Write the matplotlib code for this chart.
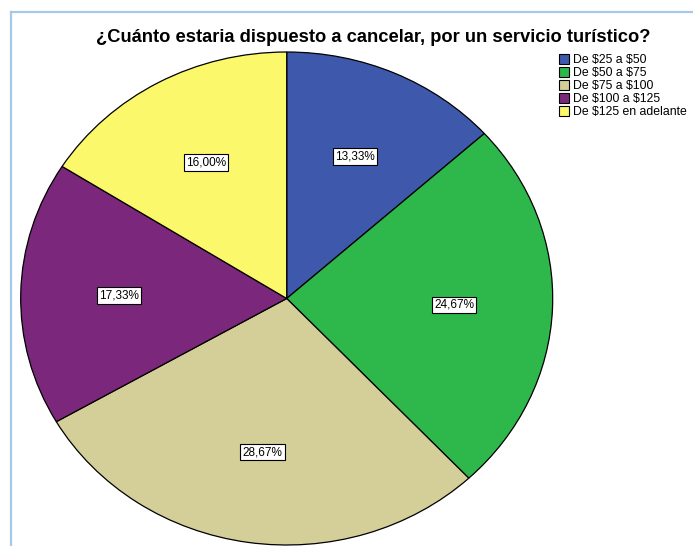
import matplotlib.pyplot as plt
from matplotlib.lines import Line2D
from matplotlib.patches import Patch

plt.rcParams["font.family"] = ["Liberation Sans", "DejaVu Sans"]

title = "¿Cuánto estaria dispuesto a cancelar, por un servicio turístico?"
categories = [r"De \$25 a \$50", r"De \$50 a \$75", r"De \$75 a \$100",
              r"De \$100 a \$125", r"De \$125 en adelante"]
percentages = [13.33, 24.67, 28.67, 17.33, 16.00]
colors = ["#3E58AC", "#2EB84B", "#D4CE98", "#7B287C", "#FCF86B"]

W, H = 693, 546
fig = plt.figure(figsize=(W / 100, H / 100), dpi=100)

# light blue frame along the left and top edges
frame_col = "#A7C8E8"
fig.add_artist(Line2D([11 / W, 11 / W], [0, 1 - 12 / H], transform=fig.transFigure,
                      color=frame_col, lw=1.6))
fig.add_artist(Line2D([11 / W, 1], [1 - 12 / H, 1 - 12 / H], transform=fig.transFigure,
                      color=frame_col, lw=1.6))

# pie is drawn slightly squashed (wider than tall)
left, right, top, bottom = 20.7, 552.7, 52, 545
ax = fig.add_axes([left / W, 1 - bottom / H, (right - left) / W, (bottom - top) / H])


def fmt_pct(p):
    return f"{p:.2f}%".replace(".", ",")


wedges, texts, autotexts = ax.pie(
    percentages, colors=colors, startangle=90, counterclock=False,
    autopct=fmt_pct, pctdistance=0.63,
    wedgeprops=dict(edgecolor="black", linewidth=0.9),
    textprops=dict(fontsize=8.5),
)
for t in autotexts:
    t.set_bbox(dict(boxstyle="square,pad=0.2", fc="white", ec="black", lw=0.8))
ax.set_aspect("auto")
ax.set_xlim(-1, 1)
ax.set_ylim(-1, 1)

fig.text(373 / W, 1 - 37 / H, title, ha="center", va="center",
         fontsize=13.2, fontweight="bold")

handles = [Patch(facecolor=c, edgecolor="black", lw=0.8) for c in colors]
fig.legend(handles, categories, loc="upper left",
           bbox_to_anchor=(554 / W, 1 - 49 / H), frameon=False,
           fontsize=8.8, handlelength=0.85, handleheight=0.85, handletextpad=0.3,
           labelspacing=0.08, borderaxespad=0)

fig.savefig("out.png", dpi=100)
